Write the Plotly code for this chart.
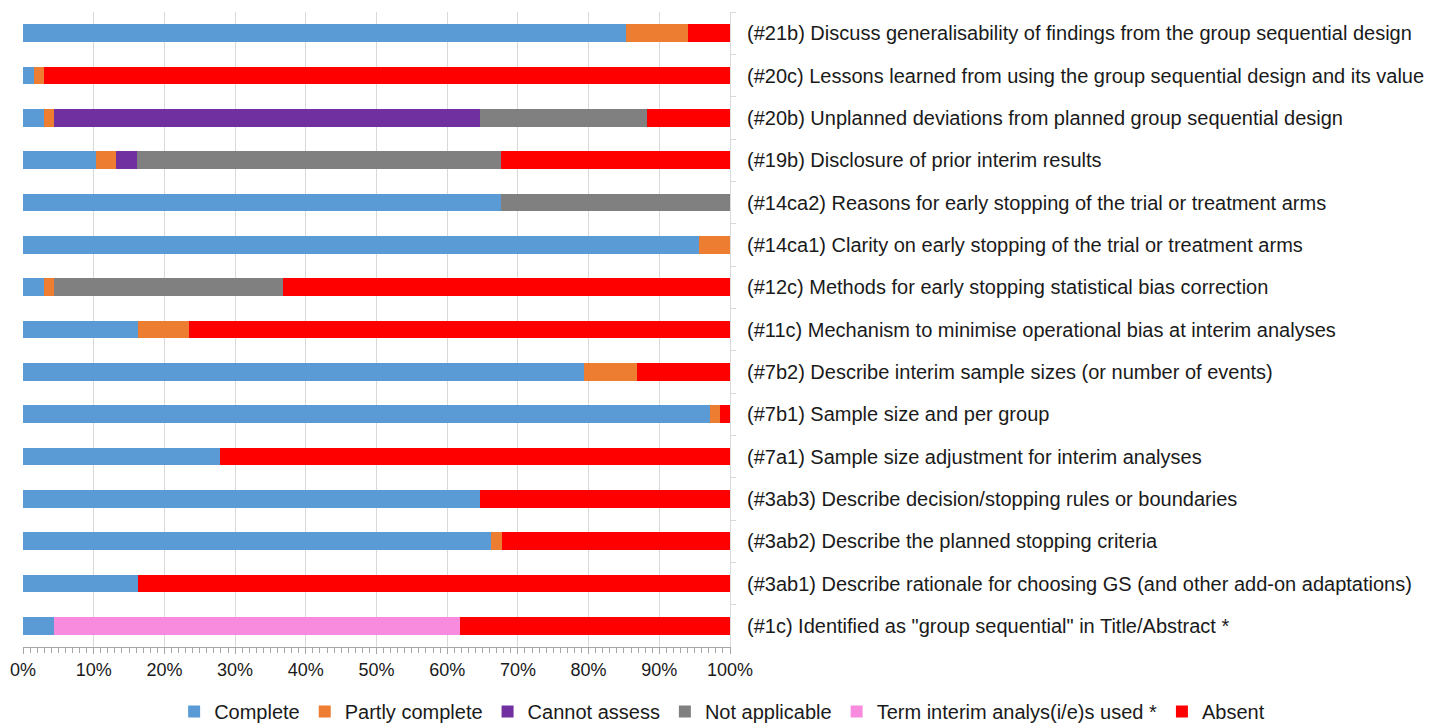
import plotly.graph_objects as go

categories = [
    "(#21b) Discuss generalisability of findings from the group sequential design",
    "(#20c) Lessons learned from using the group sequential design and its value",
    "(#20b) Unplanned deviations from planned group sequential design",
    "(#19b) Disclosure of prior interim results",
    "(#14ca2) Reasons for early stopping of the trial or treatment arms",
    "(#14ca1) Clarity on early stopping of the trial or treatment arms",
    "(#12c) Methods for early stopping statistical bias correction",
    "(#11c) Mechanism to minimise operational bias at interim analyses",
    "(#7b2) Describe interim sample sizes (or number of events)",
    "(#7b1) Sample size and per group",
    "(#7a1) Sample size adjustment for interim analyses",
    "(#3ab3) Describe decision/stopping rules or boundaries",
    "(#3ab2) Describe the planned stopping criteria",
    "(#3ab1) Describe rationale for choosing GS (and other add-on adaptations)",
    "(#1c) Identified as \"group sequential\" in Title/Abstract *",
]

complete       = [85.3, 1.5, 2.9, 10.3, 67.6, 95.6, 2.9, 16.2, 79.4, 97.1, 27.9, 64.7, 66.2, 16.2, 4.4]
partly         = [8.8, 1.5, 1.5, 2.9, 0, 4.4, 1.5, 7.3, 7.4, 1.5, 0, 0, 1.5, 0, 0]
cannot_assess  = [0, 0, 60.3, 2.9, 0, 0, 0, 0, 0, 0, 0, 0, 0, 0, 0]
not_applicable = [0, 0, 23.5, 51.5, 32.4, 0, 32.4, 0, 0, 0, 0, 0, 0, 0, 0]
term_interim   = [0, 0, 0, 0, 0, 0, 0, 0, 0, 0, 0, 0, 0, 0, 57.4]
absent         = [5.9, 97.0, 11.8, 32.4, 0, 0, 63.2, 76.5, 13.2, 1.4, 72.1, 35.3, 32.3, 83.8, 38.2]

series = [
    ("Complete", complete, "#5B9BD5"),
    ("Partly complete", partly, "#ED7D31"),
    ("Cannot assess", cannot_assess, "#7030A0"),
    ("Not applicable", not_applicable, "#808080"),
    ("Term interim analys(i/e)s used *", term_interim, "#F98BDE"),
    ("Absent", absent, "#FF0000"),
]

FONT = "Liberation Sans, Arial, sans-serif"
TXT = "#1A1A1A"
# page body has an 8px default margin; size the figure to fit the window exactly
W, H = 1434, 715

fig = go.Figure()
for name, vals, color in series:
    fig.add_trace(go.Bar(
        y=categories, x=vals, name=name, orientation="h",
        marker=dict(color=color, line=dict(width=0)),
    ))

fig.update_layout(
    barmode="stack",
    bargap=0.59,
    width=W, height=H,
    margin=dict(l=0, r=0, t=0, b=0, autoexpand=False),
    paper_bgcolor="white", plot_bgcolor="white",
    font=dict(family=FONT, size=20, color=TXT),
    showlegend=True,
    legend=dict(
        orientation="h", xref="container", yref="container",
        x=0.498, xanchor="center", y=0.016, yanchor="middle",
        font=dict(size=20, color=TXT),
        traceorder="normal",
        itemwidth=30, tracegroupgap=0,
    ),
    xaxis=dict(
        domain=[15 / W, 722 / W],
        range=[0, 100], dtick=10, ticksuffix="%",
        showgrid=True, gridcolor="#D9D9D9", gridwidth=1,
        showline=True, linecolor="#A6A6A6", linewidth=1,
        ticks="outside", ticklen=6, tickcolor="#A6A6A6",
        minor=dict(dtick=1, ticks="outside", ticklen=5, tickcolor="#A6A6A6", showgrid=False),
        zeroline=False, fixedrange=True, automargin=False,
        tickfont=dict(size=18, color=TXT),
    ),
    yaxis=dict(
        domain=[(H - 639) / H, (H - 4) / H],
        side="right", autorange="reversed",
        showline=True, linecolor="#D9D9D9", linewidth=1,
        ticks="outside", tickson="boundaries", ticklen=5, tickcolor="#D9D9D9",
        ticklabelstandoff=12, automargin=False,
        showgrid=False,
        tickfont=dict(size=20, color=TXT),
    ),
)

fig.write_html("out.html")
